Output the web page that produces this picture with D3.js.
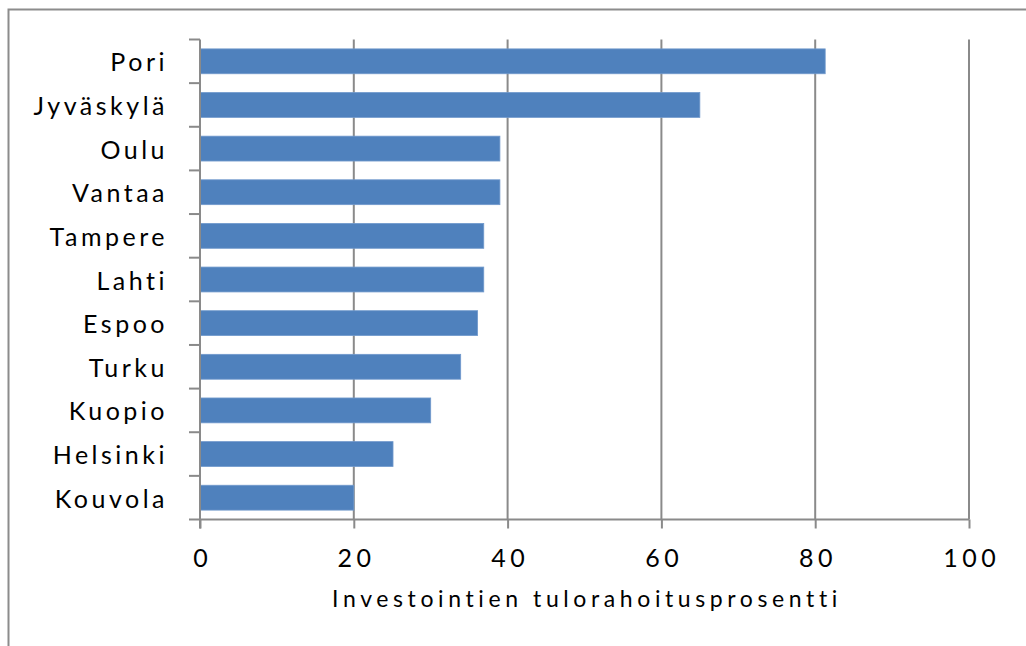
<!DOCTYPE html>
<html>
<head>
<meta charset="utf-8">
<script src="https://cdn.jsdelivr.net/npm/d3@7"></script>
<style>
  body { margin: 0; background: #fff; }
  svg { display: block; }
</style>
</head>
<body>
<svg class="bar-chart"></svg>
<script>
var cities = ["Pori", "Jyväskylä", "Oulu", "Vantaa", "Tampere", "Lahti",
              "Espoo", "Turku", "Kuopio", "Helsinki", "Kouvola"];
var values = [81.3, 65.0, 39.0, 39.0, 36.9, 36.9, 36.1, 33.9, 30.0, 25.1, 20.0];
var xTicks = [0, 20, 40, 60, 80, 100];
var xTitle = "Investointien tulorahoitusprosentti";

makeBarChart();

function makeBarChart() {
    var width = 1026, height = 646;
    var plot = {left: 200, right: 969, top: 39.5, bottom: 519.5};
    var gridColor = "#8a8a8a";
    var fontFamily = "Lato, 'Open Sans', sans-serif";

    var x = d3.scaleLinear()
        .domain([0, 100])
        .range([plot.left, plot.right]);
    var y = d3.scaleBand()
        .domain(cities)
        .range([plot.top, plot.bottom])
        .paddingInner(0.43)
        .paddingOuter(0.215);

    var svg = d3.select(".bar-chart")
        .attr("width", width)
        .attr("height", height);

    // outer chart border (only left/top visible in the frame)
    svg.append("rect")
        .attr("x", 8.5).attr("y", 9.5)
        .attr("width", width + 20).attr("height", height + 20)
        .attr("fill", "none")
        .attr("stroke", "#8c8c8c")
        .attr("stroke-width", 2);

    // vertical gridlines
    svg.append("g")
        .selectAll("line")
        .data(xTicks.slice(1))
        .enter().append("line")
        .attr("x1", function(d) { return x(d); })
        .attr("x2", function(d) { return x(d); })
        .attr("y1", plot.top)
        .attr("y2", plot.bottom)
        .attr("stroke", gridColor)
        .attr("stroke-width", 2);

    // bars
    svg.append("g")
        .selectAll("rect")
        .data(values)
        .enter().append("rect")
        .attr("x", x(0))
        .attr("y", function(d, i) { return y(cities[i]); })
        .attr("width", function(d) { return x(d) - x(0); })
        .attr("height", y.bandwidth())
        .attr("fill", "#4f81bd")
        .attr("stroke", "#7199cc")
        .attr("stroke-width", 0.8);

    // x axis
    var xAxis = d3.axisBottom(x)
        .tickValues(xTicks)
        .tickSize(9)
        .tickSizeOuter(0)
        .tickPadding(22);

    var gx = svg.append("g")
        .attr("transform", "translate(0," + plot.bottom + ")")
        .call(xAxis);
    gx.select(".domain")
        .attr("stroke", gridColor)
        .attr("stroke-width", 2)
        .attr("d", "M" + (plot.left - 11) + ",0H" + plot.right);
    gx.selectAll(".tick line")
        .attr("stroke", gridColor)
        .attr("stroke-width", 2);
    gx.selectAll(".tick text")
        .attr("fill", "#000")
        .attr("font-family", fontFamily)
        .attr("font-size", "25px")
        .attr("letter-spacing", "4.5px")
        .attr("dx", "2.25px")
        .attr("dy", "0.66em");

    // y axis
    var yAxis = d3.axisLeft(y)
        .tickSize(0)
        .tickPadding(32);

    var gy = svg.append("g")
        .attr("transform", "translate(" + plot.left + ",0)")
        .call(yAxis);
    gy.select(".domain")
        .attr("stroke", gridColor)
        .attr("stroke-width", 2)
        .attr("d", "M0," + plot.top + "V" + (plot.bottom + 9));
    gy.selectAll(".tick text")
        .attr("fill", "#000")
        .attr("font-family", fontFamily)
        .attr("font-size", "25px")
        .attr("letter-spacing", "3.5px")
        .attr("dy", "0.4em");

    // category separator ticks
    var step = y.step();
    gy.append("g")
        .selectAll("line")
        .data(d3.range(cities.length))
        .enter().append("line")
        .attr("x1", -11).attr("x2", 0)
        .attr("y1", function(i) { return y(cities[i]) - step * y.paddingInner() / 2; })
        .attr("y2", function(i) { return y(cities[i]) - step * y.paddingInner() / 2; })
        .attr("stroke", gridColor)
        .attr("stroke-width", 2);

    // axis title
    svg.append("text")
        .attr("x", (plot.left + plot.right) / 2)
        .attr("y", 607)
        .attr("text-anchor", "middle")
        .attr("dx", "2.5px")
        .attr("font-family", fontFamily)
        .attr("font-size", "23px")
        .attr("letter-spacing", "4.6px")
        .attr("fill", "#000")
        .text(xTitle);
}
</script>
</body>
</html>
